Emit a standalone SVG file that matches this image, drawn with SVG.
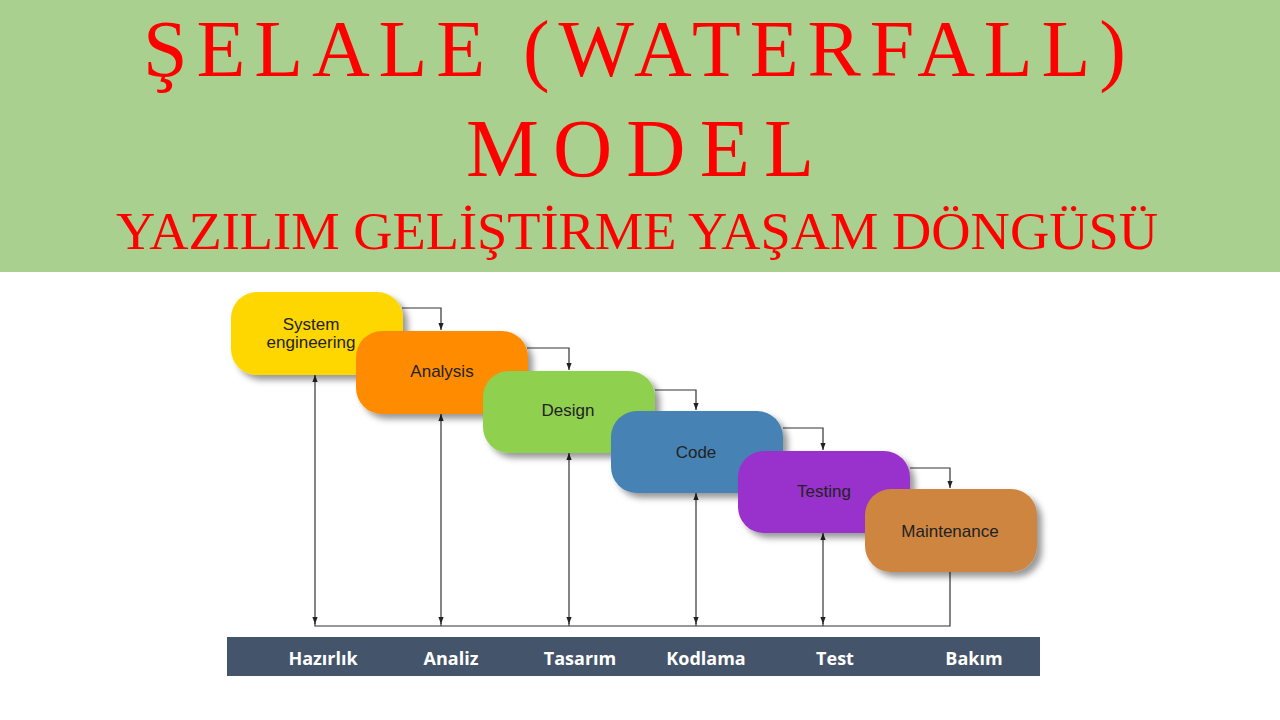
<svg xmlns="http://www.w3.org/2000/svg" width="1280" height="720" viewBox="0 0 1280 720">
<style>
.title{font-family:"Liberation Serif",serif;fill:#ff0000;}
.node text{font-family:"Liberation Sans",Arial,sans-serif;font-size:17px;fill:#222;text-anchor:middle;}
.conn{fill:none;stroke:#333;stroke-width:1.2;}
.lbl{font-family:"Open Sans",sans-serif;font-weight:700;font-size:18px;fill:#fff;text-anchor:middle;}
</style>
<defs>
<filter id="sh" x="-20%" y="-20%" width="150%" height="150%">
<feDropShadow dx="5" dy="5" stdDeviation="3" flood-color="#000" flood-opacity="0.4"/>
</filter>
<marker id="ah" viewBox="0 0 8 8" refX="8" refY="4" markerWidth="7" markerHeight="7" markerUnits="userSpaceOnUse" orient="auto-start-reverse">
<path d="M0,1 L8,4 L0,7 Z" fill="#222"/>
</marker>
</defs>
<rect x="0" y="0" width="1280" height="272" fill="#a9d08e"/>
<rect x="0" y="272" width="1280" height="448" fill="#ffffff"/>
<text class="title" x="143" y="76" font-size="80" textLength="983" lengthAdjust="spacing">ŞELALE (WATERFALL)</text>
<text class="title" x="466" y="176" font-size="82" textLength="348" lengthAdjust="spacing">MODEL</text>
<text class="title" x="116" y="249" font-size="53" textLength="1042" lengthAdjust="spacingAndGlyphs">YAZILIM GELİŞTİRME YAŞAM DÖNGÜSÜ</text>

<g id="connectors">
<path class="conn" d="M402,308 H441 V330" marker-end="url(#ah)"/>
<path class="conn" d="M527,348 H569 V370" marker-end="url(#ah)"/>
<path class="conn" d="M655,390 H696 V410" marker-end="url(#ah)"/>
<path class="conn" d="M783,428 H823 V450" marker-end="url(#ah)"/>
<path class="conn" d="M910,468 H950 V488" marker-end="url(#ah)"/>
<path class="conn" d="M315,375 V624" marker-start="url(#ah)" marker-end="url(#ah)"/>
<path class="conn" d="M441,414 V624" marker-start="url(#ah)" marker-end="url(#ah)"/>
<path class="conn" d="M569,453 V624" marker-start="url(#ah)" marker-end="url(#ah)"/>
<path class="conn" d="M696,493 V624" marker-start="url(#ah)" marker-end="url(#ah)"/>
<path class="conn" d="M823,533 V624" marker-start="url(#ah)" marker-end="url(#ah)"/>
<path class="conn" d="M950,572 V626 H315 V623"/>
<path class="conn" d="M441,623 V626 M569,623 V626 M696,623 V626 M823,623 V626"/>
</g>

<g id="n-system" class="node">
<rect x="231" y="292" width="172" height="83" rx="26" fill="#ffd700" filter="url(#sh)"/>
<text x="311" y="330">System</text>
<text x="311" y="348">engineering</text>
</g>
<g id="n-analysis" class="node">
<rect x="356" y="331" width="172" height="83" rx="26" fill="#ff8c00" filter="url(#sh)"/>
<text x="442" y="377">Analysis</text>
</g>
<g id="n-design" class="node">
<rect x="483" y="371" width="172" height="82" rx="26" fill="#8fd04f" filter="url(#sh)"/>
<text x="568" y="416">Design</text>
</g>
<g id="n-code" class="node">
<rect x="611" y="411" width="172" height="82" rx="26" fill="#4682b4" filter="url(#sh)"/>
<text x="696" y="458">Code</text>
</g>
<g id="n-testing" class="node">
<rect x="738" y="451" width="172" height="82" rx="26" fill="#9932cc" filter="url(#sh)"/>
<text x="824" y="497">Testing</text>
</g>
<g id="n-maintenance" class="node">
<rect x="865" y="489" width="172" height="83" rx="26" fill="#cd853f" filter="url(#sh)"/>
<text x="950" y="537">Maintenance</text>
</g>

<g id="phase-bar">
<rect x="227" y="637" width="813" height="39" fill="#44546a"/>
<text class="lbl" x="323" y="665">Hazırlık</text>
<text class="lbl" x="451" y="665">Analiz</text>
<text class="lbl" x="580" y="665">Tasarım</text>
<text class="lbl" x="706" y="665">Kodlama</text>
<text class="lbl" x="835" y="665">Test</text>
<text class="lbl" x="974" y="665">Bakım</text>
</g>
</svg>
